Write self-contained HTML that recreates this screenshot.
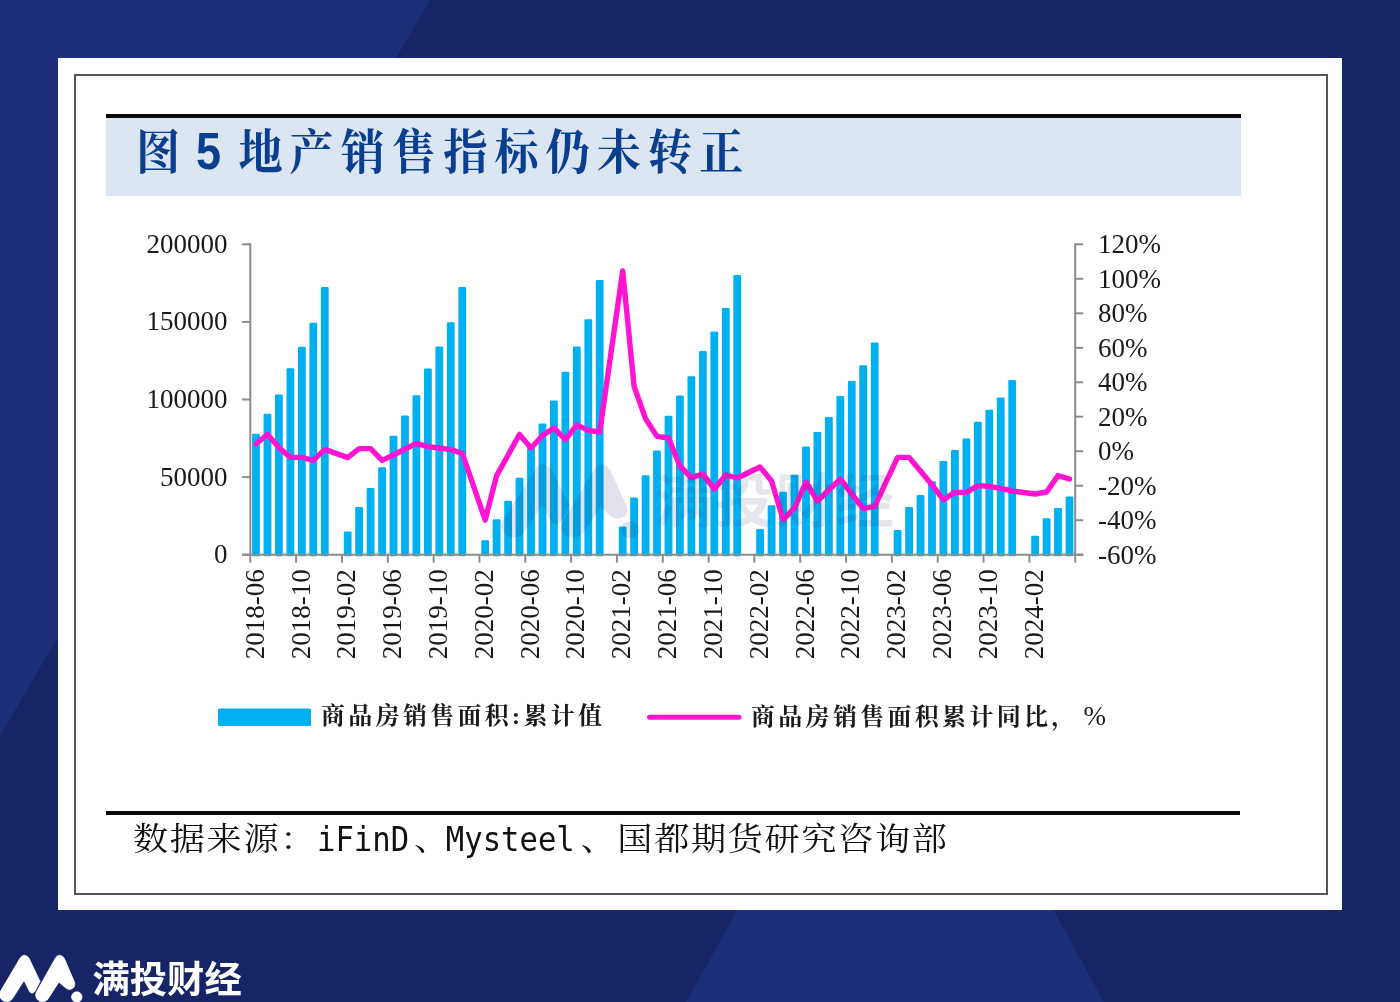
<!DOCTYPE html>
<html lang="zh-CN">
<head>
<meta charset="utf-8">
<title>图 5 地产销售指标仍未转正</title>
<style>
html,body{margin:0;padding:0;}
body{width:1400px;height:1002px;position:relative;overflow:hidden;background:#172466;font-family:"Liberation Sans","Noto Sans CJK SC",sans-serif;}
#wrap{position:absolute;left:0;top:0;width:1400px;height:1002px;overflow:hidden;}
#bg{position:absolute;left:0;top:0;width:1400px;height:1002px;}
#card{position:absolute;left:57.8px;top:57.8px;width:1284.6px;height:851.8px;background:#fff;}
#frame{position:absolute;left:74px;top:74px;width:1249.6px;height:816.8px;border:2px solid #555;}
#topline{position:absolute;left:105.5px;top:113.6px;width:1135px;height:4px;background:#0a0a0a;}
#band{position:absolute;left:105.5px;top:117.5px;width:1135px;height:78.4px;background:#dce6f2;}
#title{position:absolute;left:135.5px;top:116px;height:70px;line-height:70px;margin:0;font-family:"Liberation Sans","Noto Serif CJK SC",serif;font-weight:bold;font-size:48px;letter-spacing:7.65px;color:#0a3e8f;white-space:pre;transform:scaleX(.92);transform-origin:0 50%;}
#title .n{display:inline-block;white-space:normal;width:55.65px;margin-left:-4.3px;margin-right:4.3px;text-align:center;font-family:"Liberation Sans",sans-serif;font-size:51.5px;letter-spacing:0;transform:scaleX(.95);}
#botline{position:absolute;left:106px;top:811px;width:1134px;height:3.6px;background:#0a0a0a;}
#src{position:absolute;left:133px;top:818px;height:46px;line-height:46px;margin:0;font-family:"Liberation Mono","Noto Serif CJK SC",serif;font-size:32px;letter-spacing:1.45px;color:#111;white-space:pre;transform:scaleX(1.1);transform-origin:0 50%;}
#src .l{display:inline-block;font-family:"DejaVu Sans Mono","Liberation Mono",monospace;font-size:27.8px;letter-spacing:0;transform:translateY(1.8px) scaleY(1.22);transform-origin:50% 78%;}
#chart{position:absolute;left:0;top:0;width:1400px;height:1002px;}
#chart text{font-family:"Liberation Serif",serif;font-size:27px;fill:#1a1a1a;}
.leg{position:absolute;top:700px;height:32px;line-height:32px;font-family:"Liberation Serif","Noto Serif CJK SC",serif;font-weight:bold;font-size:24px;letter-spacing:3.3px;color:#1a1a1a;white-space:pre;}
.leg .p{font-weight:normal;font-size:27px;letter-spacing:0;margin-left:5px;}
#brand{position:absolute;left:92.5px;top:953.5px;height:52px;line-height:52px;font-family:"Liberation Sans","Noto Sans CJK SC",sans-serif;font-weight:bold;font-size:37.3px;color:#fff;white-space:pre;}
#wm{position:absolute;left:654.5px;top:464px;height:76px;line-height:76px;font-family:"Liberation Sans","Noto Sans CJK SC",sans-serif;font-weight:bold;font-size:58px;letter-spacing:2.5px;color:#1a2468;opacity:.115;white-space:pre;}
</style>
</head>
<body>
<div id="wrap">
<svg id="bg" viewBox="0 0 1400 1002">
<rect width="1400" height="1002" fill="#172466"/>
<polygon points="0,0 430,0 0,736" fill="#1e2f7a"/>
<polygon points="897,625 1104,1002 686,1002" fill="#1e2f7a"/>
<g fill="#fff" stroke="#fff" stroke-width="0.8" stroke-linejoin="round">
<path d="M0.5,991.3 L20.3,957.8 Q24.3,952.6 28.9,958 L40,981.4 L35.6,990 Q33,995 29.8,992 L24,980.4 L12.8,998.1 A6.9,6.9 0 0 1 0.5,991.3 Z"/>
<path d="M36.5,991.8 L55.6,957.8 Q59.6,952.6 64.1,958 L74.4,982 Q76,988 70.5,989.3 Q67.5,990 65,987.3 L58.9,982 L48.5,998.2 A6.8,6.8 0 0 1 36.5,991.8 Z"/>
<circle cx="76.8" cy="997" r="5.2"/>
</g>
</svg>
<div id="card"></div>
<div id="frame"></div>
<div id="topline"></div>
<div id="band"></div>
<h1 id="title">图<span class="n"> 5 </span>地产销售指标仍未转正</h1>
<svg id="chart" viewBox="0 0 1400 1002">
<g fill="#00b0f0">
<rect x="252.1" y="433.7" width="7.8" height="122.5" rx="1.2"/>
<rect x="263.6" y="413.7" width="7.8" height="142.5" rx="1.2"/>
<rect x="275.0" y="394.4" width="7.8" height="161.8" rx="1.2"/>
<rect x="286.5" y="368.2" width="7.8" height="188.0" rx="1.2"/>
<rect x="298.0" y="346.8" width="7.8" height="209.4" rx="1.2"/>
<rect x="309.4" y="322.8" width="7.8" height="233.4" rx="1.2"/>
<rect x="320.9" y="287.0" width="7.8" height="269.2" rx="1.2"/>
<rect x="343.8" y="531.5" width="7.8" height="24.7" rx="1.2"/>
<rect x="355.2" y="507.1" width="7.8" height="49.1" rx="1.2"/>
<rect x="366.7" y="488.1" width="7.8" height="68.1" rx="1.2"/>
<rect x="378.2" y="467.2" width="7.8" height="89.0" rx="1.2"/>
<rect x="389.6" y="435.8" width="7.8" height="120.4" rx="1.2"/>
<rect x="401.1" y="415.6" width="7.8" height="140.6" rx="1.2"/>
<rect x="412.5" y="395.3" width="7.8" height="160.9" rx="1.2"/>
<rect x="424.0" y="368.4" width="7.8" height="187.8" rx="1.2"/>
<rect x="435.4" y="346.6" width="7.8" height="209.6" rx="1.2"/>
<rect x="446.9" y="322.3" width="7.8" height="233.9" rx="1.2"/>
<rect x="458.4" y="287.1" width="7.8" height="269.1" rx="1.2"/>
<rect x="481.3" y="540.2" width="7.8" height="16.0" rx="1.2"/>
<rect x="492.7" y="519.3" width="7.8" height="36.9" rx="1.2"/>
<rect x="504.2" y="500.7" width="7.8" height="55.5" rx="1.2"/>
<rect x="515.6" y="477.8" width="7.8" height="78.4" rx="1.2"/>
<rect x="527.1" y="445.7" width="7.8" height="110.5" rx="1.2"/>
<rect x="538.6" y="423.6" width="7.8" height="132.6" rx="1.2"/>
<rect x="550.0" y="400.5" width="7.8" height="155.7" rx="1.2"/>
<rect x="561.5" y="371.7" width="7.8" height="184.5" rx="1.2"/>
<rect x="572.9" y="346.5" width="7.8" height="209.7" rx="1.2"/>
<rect x="584.4" y="319.3" width="7.8" height="236.9" rx="1.2"/>
<rect x="595.8" y="280.1" width="7.8" height="276.1" rx="1.2"/>
<rect x="618.8" y="526.5" width="7.8" height="29.7" rx="1.2"/>
<rect x="630.2" y="497.5" width="7.8" height="58.7" rx="1.2"/>
<rect x="641.7" y="475.3" width="7.8" height="80.9" rx="1.2"/>
<rect x="653.1" y="450.4" width="7.8" height="105.8" rx="1.2"/>
<rect x="664.6" y="415.8" width="7.8" height="140.4" rx="1.2"/>
<rect x="676.0" y="395.6" width="7.8" height="160.6" rx="1.2"/>
<rect x="687.5" y="376.2" width="7.8" height="180.0" rx="1.2"/>
<rect x="699.0" y="351.1" width="7.8" height="205.1" rx="1.2"/>
<rect x="710.4" y="331.4" width="7.8" height="224.8" rx="1.2"/>
<rect x="721.9" y="308.0" width="7.8" height="248.2" rx="1.2"/>
<rect x="733.3" y="274.9" width="7.8" height="281.3" rx="1.2"/>
<rect x="756.2" y="529.0" width="7.8" height="27.2" rx="1.2"/>
<rect x="767.7" y="505.2" width="7.8" height="51.0" rx="1.2"/>
<rect x="779.2" y="491.7" width="7.8" height="64.5" rx="1.2"/>
<rect x="790.6" y="474.7" width="7.8" height="81.5" rx="1.2"/>
<rect x="802.1" y="446.4" width="7.8" height="109.8" rx="1.2"/>
<rect x="813.5" y="432.1" width="7.8" height="124.1" rx="1.2"/>
<rect x="825.0" y="417.0" width="7.8" height="139.2" rx="1.2"/>
<rect x="836.4" y="396.0" width="7.8" height="160.2" rx="1.2"/>
<rect x="847.9" y="380.9" width="7.8" height="175.3" rx="1.2"/>
<rect x="859.3" y="365.2" width="7.8" height="191.0" rx="1.2"/>
<rect x="870.8" y="342.6" width="7.8" height="213.6" rx="1.2"/>
<rect x="893.7" y="529.9" width="7.8" height="26.3" rx="1.2"/>
<rect x="905.2" y="506.9" width="7.8" height="49.3" rx="1.2"/>
<rect x="916.6" y="495.0" width="7.8" height="61.2" rx="1.2"/>
<rect x="928.1" y="481.3" width="7.8" height="74.9" rx="1.2"/>
<rect x="939.5" y="461.0" width="7.8" height="95.2" rx="1.2"/>
<rect x="951.0" y="450.1" width="7.8" height="106.1" rx="1.2"/>
<rect x="962.5" y="438.6" width="7.8" height="117.6" rx="1.2"/>
<rect x="973.9" y="421.8" width="7.8" height="134.4" rx="1.2"/>
<rect x="985.4" y="409.7" width="7.8" height="146.5" rx="1.2"/>
<rect x="996.8" y="397.4" width="7.8" height="158.8" rx="1.2"/>
<rect x="1008.3" y="380.0" width="7.8" height="176.2" rx="1.2"/>
<rect x="1031.2" y="535.8" width="7.8" height="20.4" rx="1.2"/>
<rect x="1042.7" y="518.2" width="7.8" height="38.0" rx="1.2"/>
<rect x="1054.1" y="508.0" width="7.8" height="48.2" rx="1.2"/>
<rect x="1065.6" y="496.5" width="7.8" height="59.7" rx="1.2"/>
</g>
<g stroke="#8c8c8c" stroke-width="2" fill="none">
<line x1="250.3" y1="243.3" x2="250.3" y2="555.7"/>
<line x1="1075.2" y1="243.3" x2="1075.2" y2="555.7"/>
<line x1="242" y1="554.7" x2="1083.2" y2="554.7"/>
<line x1="242" y1="554.7" x2="250.3" y2="554.7"/>
<line x1="242" y1="477.1" x2="250.3" y2="477.1"/>
<line x1="242" y1="399.5" x2="250.3" y2="399.5"/>
<line x1="242" y1="321.9" x2="250.3" y2="321.9"/>
<line x1="242" y1="244.3" x2="250.3" y2="244.3"/>
<line x1="1075.2" y1="554.7" x2="1083.2" y2="554.7"/>
<line x1="1075.2" y1="520.2" x2="1083.2" y2="520.2"/>
<line x1="1075.2" y1="485.7" x2="1083.2" y2="485.7"/>
<line x1="1075.2" y1="451.2" x2="1083.2" y2="451.2"/>
<line x1="1075.2" y1="416.7" x2="1083.2" y2="416.7"/>
<line x1="1075.2" y1="382.3" x2="1083.2" y2="382.3"/>
<line x1="1075.2" y1="347.8" x2="1083.2" y2="347.8"/>
<line x1="1075.2" y1="313.3" x2="1083.2" y2="313.3"/>
<line x1="1075.2" y1="278.8" x2="1083.2" y2="278.8"/>
<line x1="1075.2" y1="244.3" x2="1083.2" y2="244.3"/>
<line x1="250.3" y1="554.7" x2="250.3" y2="562.7"/>
<line x1="296.1" y1="554.7" x2="296.1" y2="562.7"/>
<line x1="342.0" y1="554.7" x2="342.0" y2="562.7"/>
<line x1="387.8" y1="554.7" x2="387.8" y2="562.7"/>
<line x1="433.6" y1="554.7" x2="433.6" y2="562.7"/>
<line x1="479.4" y1="554.7" x2="479.4" y2="562.7"/>
<line x1="525.3" y1="554.7" x2="525.3" y2="562.7"/>
<line x1="571.1" y1="554.7" x2="571.1" y2="562.7"/>
<line x1="616.9" y1="554.7" x2="616.9" y2="562.7"/>
<line x1="662.8" y1="554.7" x2="662.8" y2="562.7"/>
<line x1="708.6" y1="554.7" x2="708.6" y2="562.7"/>
<line x1="754.4" y1="554.7" x2="754.4" y2="562.7"/>
<line x1="800.2" y1="554.7" x2="800.2" y2="562.7"/>
<line x1="846.1" y1="554.7" x2="846.1" y2="562.7"/>
<line x1="891.9" y1="554.7" x2="891.9" y2="562.7"/>
<line x1="937.7" y1="554.7" x2="937.7" y2="562.7"/>
<line x1="983.5" y1="554.7" x2="983.5" y2="562.7"/>
<line x1="1029.4" y1="554.7" x2="1029.4" y2="562.7"/>
<line x1="1075.2" y1="554.7" x2="1075.2" y2="562.7"/>
</g>
<polyline points="256.0,444.0 267.5,434.4 278.9,447.6 290.4,457.4 301.9,457.4 313.3,460.4 324.8,449.4 347.7,457.6 359.1,448.6 370.6,448.6 382.1,460.4 393.5,455.0 405.0,449.0 416.4,443.4 427.9,446.6 439.3,448.0 450.8,449.6 462.3,453.4 485.2,520.0 496.6,475.6 508.1,455.0 519.5,434.4 531.0,448.0 542.5,435.6 553.9,428.0 565.4,439.6 576.8,425.0 588.3,430.4 599.7,432.0 622.7,271.0 634.1,386.3 645.6,418.8 657.0,436.4 668.5,438.0 679.9,466.0 691.4,477.6 702.9,474.0 714.3,489.0 725.8,475.0 737.2,478.0 760.1,467.0 771.6,481.0 783.1,519.6 794.5,508.0 806.0,482.0 817.4,501.0 828.9,490.0 840.3,479.0 851.8,494.0 863.2,508.6 874.7,506.4 897.6,457.4 909.1,457.4 920.5,471.0 932.0,485.0 943.4,499.6 954.9,492.4 966.4,492.4 977.8,485.6 989.3,486.4 1000.7,488.4 1012.2,491.0 1035.1,494.0 1046.6,492.0 1058.0,475.6 1069.5,479.0" fill="none" stroke="#ff14d2" stroke-width="5.4" stroke-linejoin="round" stroke-linecap="round"/>
<text x="227.4" y="563.1" text-anchor="end">0</text>
<text x="227.4" y="485.5" text-anchor="end">50000</text>
<text x="227.4" y="407.9" text-anchor="end">100000</text>
<text x="227.4" y="330.3" text-anchor="end">150000</text>
<text x="227.4" y="252.7" text-anchor="end">200000</text>
<text x="1098" y="563.8">-60%</text>
<text x="1098" y="529.3">-40%</text>
<text x="1098" y="494.8">-20%</text>
<text x="1098" y="460.3">0%</text>
<text x="1098" y="425.8">20%</text>
<text x="1098" y="391.4">40%</text>
<text x="1098" y="356.9">60%</text>
<text x="1098" y="322.4">80%</text>
<text x="1098" y="287.9">100%</text>
<text x="1098" y="253.4">120%</text>
<text transform="translate(263.6,659.2) rotate(-90)">2018-06</text>
<text transform="translate(309.5,659.2) rotate(-90)">2018-10</text>
<text transform="translate(355.3,659.2) rotate(-90)">2019-02</text>
<text transform="translate(401.1,659.2) rotate(-90)">2019-06</text>
<text transform="translate(446.9,659.2) rotate(-90)">2019-10</text>
<text transform="translate(492.8,659.2) rotate(-90)">2020-02</text>
<text transform="translate(538.6,659.2) rotate(-90)">2020-06</text>
<text transform="translate(584.4,659.2) rotate(-90)">2020-10</text>
<text transform="translate(630.3,659.2) rotate(-90)">2021-02</text>
<text transform="translate(676.1,659.2) rotate(-90)">2021-06</text>
<text transform="translate(721.9,659.2) rotate(-90)">2021-10</text>
<text transform="translate(767.7,659.2) rotate(-90)">2022-02</text>
<text transform="translate(813.6,659.2) rotate(-90)">2022-06</text>
<text transform="translate(859.4,659.2) rotate(-90)">2022-10</text>
<text transform="translate(905.2,659.2) rotate(-90)">2023-02</text>
<text transform="translate(951.0,659.2) rotate(-90)">2023-06</text>
<text transform="translate(996.9,659.2) rotate(-90)">2023-10</text>
<text transform="translate(1042.7,659.2) rotate(-90)">2024-02</text>
<g opacity=".125" transform="translate(502.4,-1015.6) scale(1.665,1.55)" fill="#1a2468" stroke="#1a2468" stroke-width="0.8" stroke-linejoin="round">
<path d="M0.5,991.3 L20.3,957.8 Q24.3,952.6 28.9,958 L40,981.4 L35.6,990 Q33,995 29.8,992 L24,980.4 L12.8,998.1 A6.9,6.9 0 0 1 0.5,991.3 Z"/>
<path d="M36.5,991.8 L55.6,957.8 Q59.6,952.6 64.1,958 L74.4,982 Q76,988 70.5,989.3 Q67.5,990 65,987.3 L58.9,982 L48.5,998.2 A6.8,6.8 0 0 1 36.5,991.8 Z"/>
<circle cx="76.8" cy="997" r="5.2"/>
</g>
<rect x="218" y="708.5" width="93" height="17.6" rx="1.5" fill="#00b0f0"/>
<line x1="649.5" y1="717.3" x2="739" y2="717.3" stroke="#ff14d2" stroke-width="5" stroke-linecap="round"/>
</svg>
<div id="wm">满投财经</div>
<div class="leg" style="left:321px">商品房销售面积:累计值</div>
<div class="leg" style="left:751px">商品房销售面积累计同比，<span class="p">%</span></div>
<div id="botline"></div>
<p id="src">数据来源：<span class="l">iFinD</span><span style="position:relative;left:4.5px">、</span><span class="l" style="margin-right:5.3px">Mysteel</span>、国都期货研究咨询部</p>
<div id="brand">满投财经</div>
</div>
</body>
</html>
